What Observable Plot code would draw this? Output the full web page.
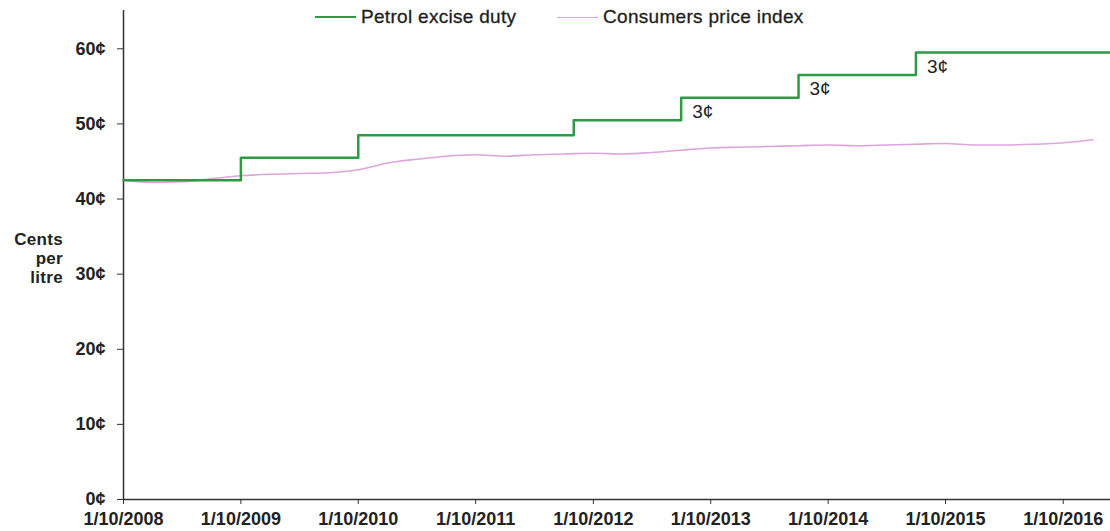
<!DOCTYPE html>
<html><head><meta charset="utf-8">
<script src="https://cdn.jsdelivr.net/npm/d3@7"></script>
<script src="https://cdn.jsdelivr.net/npm/@observablehq/plot@0.6"></script>
<style>
body{margin:0;background:#fff;}
#wrap{position:relative;width:1110px;height:531px;font-family:"Liberation Sans",Arial,sans-serif;color:#222;}
#ylab{position:absolute;right:1047px;top:230px;text-align:right;font-weight:bold;font-size:17px;line-height:19px;letter-spacing:0.3px;}
.leg{position:absolute;top:6px;font-size:19px;letter-spacing:0.3px;display:flex;align-items:center;white-space:nowrap;color:#1e1e1e;-webkit-text-stroke:0.3px #1e1e1e;}
.sw{display:inline-block;width:41px;margin-right:5px;}
</style></head><body>
<div id="wrap">
  <div id="ylab">Cents<br>per<br>litre</div>
  <div class="leg" style="left:315px"><span class="sw" style="border-top:2.5px solid #2f9a45"></span>Petrol excise duty</div>
  <div class="leg" style="left:557px"><span class="sw" style="border-top:1.5px solid #dba6dc"></span>Consumers price index</div>
</div>
<script>
const dutyDates = ["2008-10-01","2009-10-01","2010-10-01","2012-08-01","2013-07-01","2014-07-01","2015-07-01","2017-02-25"];
const dutyCents = [42.5, 45.5, 48.5, 50.5, 53.5, 56.5, 59.5, 59.5];

const cpiDates = ["2008-10-01","2009-01-01","2009-04-01","2009-07-01","2009-10-01","2010-01-01","2010-04-01","2010-07-01","2010-10-01","2011-01-01","2011-04-01","2011-07-01","2011-10-01","2012-01-01","2012-04-01","2012-07-01","2012-10-01","2013-01-01","2013-04-01","2013-07-01","2013-10-01","2014-01-01","2014-04-01","2014-07-01","2014-10-01","2015-01-01","2015-04-01","2015-07-01","2015-10-01","2016-01-01","2016-04-01","2016-07-01","2016-10-01","2017-01-01"];
const cpiCents = [42.5,42.2,42.3,42.7,43.1,43.3,43.4,43.5,43.9,44.8,45.3,45.7,45.9,45.7,45.9,46.0,46.1,46.0,46.2,46.5,46.8,46.9,47.0,47.1,47.2,47.1,47.2,47.3,47.4,47.2,47.2,47.3,47.5,47.9];

const annotDates = ["2013-07-01","2014-07-01","2015-07-01"];
const annotCents = [53.5, 56.5, 59.5];
const annotLabels = ["3¢","3¢","3¢"];

const xTickDates = ["2008-10-01","2009-10-01","2010-10-01","2011-10-01","2012-10-01","2013-10-01","2014-10-01","2015-10-01","2016-10-01"];
const yTicks = [0, 10, 20, 30, 40, 50, 60];

const parse = d3.utcParse("%Y-%m-%d");
const duty = dutyDates.map((d, i) => ({date: parse(d), v: dutyCents[i]}));
const cpi = cpiDates.map((d, i) => ({date: parse(d), v: cpiCents[i]}));
const annots = annotDates.map((d, i) => ({date: parse(d), v: annotCents[i], t: annotLabels[i]}));
const xTicks = xTickDates.map(parse);
const x0 = parse("2008-10-01"), x1 = parse("2017-02-25");

const chart = Plot.plot({
  width: 1110, height: 531,
  marginLeft: 123, marginRight: 0, marginTop: 10, marginBottom: 32,
  style: {fontFamily: '"Liberation Sans", Arial, sans-serif', fontSize: "18px", color: "#222", background: "transparent"},
  x: {type: "utc", domain: [x0, x1]},
  y: {domain: [0, 65.1]},
  marks: [
    Plot.axisX({ticks: xTicks, tickFormat: d3.utcFormat("%-d/%-m/%Y"), tickSize: 5, tickPadding: 8, fontWeight: "bold", fontSize: 18, label: null, stroke: "#333"}),
    Plot.axisY({ticks: yTicks, tickFormat: d => d + "¢", tickSize: 6, tickPadding: 12, fontWeight: "bold", fontSize: 18, label: null, stroke: "#333"}),
    Plot.ruleX([x0], {stroke: "#333", strokeWidth: 1.5}),
    Plot.ruleY([0], {stroke: "#333", strokeWidth: 1.5}),
    Plot.line(cpi, {x: "date", y: "v", stroke: "#dba6dc", strokeWidth: 1.6, curve: "monotone-x"}),
    Plot.line(duty, {x: "date", y: "v", stroke: "#2f9a45", strokeWidth: 2.5, curve: "step-after"}),
    Plot.text(annots, {x: "date", y: "v", text: "t", dx: 11, dy: 14, textAnchor: "start", fontSize: 19, fill: "#222"})
  ]
});
document.getElementById("wrap").prepend(chart);
chart.style.position = "absolute";
chart.style.left = "0"; chart.style.top = "0";
</script>
</body></html>
